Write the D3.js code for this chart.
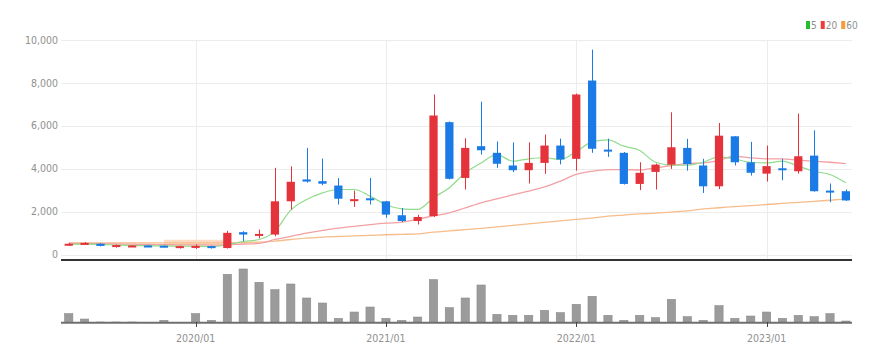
<!DOCTYPE html>
<html>
<head>
<meta charset="utf-8">
<script src="https://cdn.jsdelivr.net/npm/d3@7"></script>
<style>
  html, body { margin: 0; padding: 0; background: #fff; }
  svg { display: block; }
  text { font-family: "Liberation Sans Narrow", "DejaVu Sans Condensed", "Arial Narrow", sans-serif; }
</style>
</head>
<body>
<svg id="chart" width="888" height="363"></svg>
<script>
// ---------------- DATA ----------------
const months = [
  "2019/05","2019/06","2019/07","2019/08","2019/09","2019/10","2019/11","2019/12",
  "2020/01","2020/02","2020/03","2020/04","2020/05","2020/06","2020/07","2020/08","2020/09","2020/10","2020/11","2020/12",
  "2021/01","2021/02","2021/03","2021/04","2021/05","2021/06","2021/07","2021/08","2021/09","2021/10","2021/11","2021/12",
  "2022/01","2022/02","2022/03","2022/04","2022/05","2022/06","2022/07","2022/08","2022/09","2022/10","2022/11","2022/12",
  "2023/01","2023/02","2023/03","2023/04","2023/05","2023/06"
];
const openP  = [430,490,500,370,380,420,410,300, 310,390,300,1040,920,930,2480,3500,3420,3215,2530,2620,
                2480,1830,1560,1790,6170,3570,5050,4740,4150,3930,4270,5080, 4460,8110,4890,4740,3290,3850,4190,4970,
                4150,3180,5510,4300,3770,4020,3880,4610,2980,2950];
const highP  = [540,580,520,460,440,430,420,410, 470,410,1100,1090,1160,4040,4110,4970,4470,3560,2980,3570,
                2500,2170,1850,7460,6200,5420,7120,5270,5230,5230,5590,5400, 7500,9550,5400,4780,4300,4240,6630,5390,
                4460,6130,5520,5250,5080,4460,6570,5790,3310,3030];
const lowP   = [410,470,380,320,370,370,360,280, 260,280,280,620,750,850,2100,3350,3230,2330,2220,2330,
                1710,1510,1400,1750,3500,3030,4660,4040,3840,3310,3760,4200, 3910,4740,4550,3260,3000,3030,3990,3910,
                2870,3050,4150,3680,3400,3460,3770,2930,2440,2500];
const closeP = [500,540,400,440,420,380,370,390, 400,300,1010,930,960,2480,3390,3400,3300,2600,2580,2560,
                1860,1560,1750,6480,3530,4970,4860,4230,3930,4270,5080,4430, 7460,4930,4810,3290,3810,4190,5000,4210,
                3180,5540,4300,3810,4120,3940,4580,2950,2930,2520];
const volume = [27,11,2,2,2,1,7,1, 27,7,145,161,121,99,116,74,59,13,32,47,
                13,7,17,129,45,74,113,25,22,22,37,30, 55,79,22,7,22,15,70,18,
                7,51,13,20,32,13,22,18,27,5].map(v => v * 1000);
const ma5  = [470,480,470,440,420,410,400,390, 380,370,450,600,700,1090,2070,2560,2870,3030,3030,2720,
              2330,2130,2100,2650,3110,3810,4270,4660,4350,4460,4510,4430, 4800,5250,5340,5050,4850,4300,4170,4160,
              4300,4550,4450,4300,4270,4350,4120,3880,3730,3340];
const ma20 = [520,520,510,490,480,470,460,450, 450,440,450,490,520,700,850,1000,1120,1230,1310,1390,
              1460,1510,1650,1800,1940,2170,2410,2590,2780,2950,3150,3420, 3730,3880,3960,3960,3940,4040,4150,4240,
              4270,4390,4580,4500,4460,4460,4400,4350,4300,4240];
const ma60 = [540,540,540,540,540,540,545,545, 545,545,550,560,580,620,700,760,810,840,870,890,
              920,940,960,1040,1100,1160,1220,1290,1360,1430,1500,1570, 1640,1700,1790,1840,1890,1930,1980,2030,
              2130,2180,2230,2280,2330,2380,2430,2480,2530,2580];
const yTicks = [0,2000,4000,6000,8000,10000];
const xTickLabels = ["2020/01","2021/01","2022/01","2023/01"];
const legendItems = [{label:"5", color:"#1fbf2f"},{label:"20", color:"#ef3b3b"},{label:"60", color:"#f59d3d"}];

// ---------------- CHART ----------------
const svg = d3.select("#chart");
const W = 888, H = 363;
svg.append("rect").attr("width", W).attr("height", H).attr("fill", "#fff");

const left = 61, right = 852;
const x = d3.scaleBand().domain(months).range([60.8, 853.8]).paddingInner(0.48).paddingOuter(0.24);
const cx = d => x(d) + x.bandwidth() / 2;
const y = d3.scaleLinear().domain([0, 10000]).range([254.5, 40]);
const yv = d3.scaleLinear().domain([0, 161000]).range([322.7, 269]);

const data = months.map((m, i) => ({m, o: openP[i], h: highP[i], l: lowP[i], c: closeP[i], v: volume[i],
  a5: ma5[i], a20: ma20[i], a60: ma60[i]}));

// grid horizontal
svg.append("g").selectAll("line").data(yTicks).join("line")
  .attr("x1", left).attr("x2", right)
  .attr("y1", d => Math.round(y(d)) + 0.5).attr("y2", d => Math.round(y(d)) + 0.5)
  .attr("stroke", "#ececec").attr("stroke-width", 1);
// grid vertical
svg.append("g").selectAll("line").data(xTickLabels).join("line")
  .attr("x1", d => Math.round(cx(d)) + 0.5).attr("x2", d => Math.round(cx(d)) + 0.5)
  .attr("y1", 40).attr("y2", 259)
  .attr("stroke", "#ececec").attr("stroke-width", 1);

// y labels
svg.append("g").selectAll("text").data(yTicks).join("text")
  .attr("x", 58).attr("y", d => y(d)).attr("dy", "0.35em")
  .attr("text-anchor", "end").attr("font-size", 10.5).attr("fill", "#909090")
  .text(d => d3.format(",")(d));

// MA lines
const line = key => d3.line().x(d => cx(d.m)).y(d => y(d[key])).curve(d3.curveMonotoneX);
// faint band at start of 60 line
svg.append("path").datum(data.slice(6, 11))
  .attr("d", line("a60")).attr("fill", "none")
  .attr("stroke", "#f9cfb0").attr("stroke-width", 6).attr("opacity", 0.75);
svg.append("path").datum(data).attr("d", line("a60")).attr("fill", "none")
  .attr("stroke", "#f6bd8a").attr("stroke-width", 1.3);
svg.append("path").datum(data).attr("d", line("a20")).attr("fill", "none")
  .attr("stroke", "#f3a0a3").attr("stroke-width", 1.3);
svg.append("path").datum(data).attr("d", line("a5")).attr("fill", "none")
  .attr("stroke", "#8fdc8c").attr("stroke-width", 1.2);

// candles
const up = "#e5333b", down = "#1a7ae6";
const cg = svg.append("g");
cg.selectAll("line").data(data).join("line")
  .attr("x1", d => Math.round(cx(d.m)) + 0.5).attr("x2", d => Math.round(cx(d.m)) + 0.5)
  .attr("y1", d => y(d.h)).attr("y2", d => y(d.l))
  .attr("stroke", d => d.c >= d.o ? up : down).attr("stroke-width", 1);
cg.selectAll("rect").data(data).join("rect")
  .attr("x", d => x(d.m)).attr("width", x.bandwidth())
  .attr("y", d => Math.min(y(d.o), y(d.c)))
  .attr("height", d => Math.max(2, Math.abs(y(d.o) - y(d.c))))
  .attr("fill", d => d.c >= d.o ? up : down);

// main bottom axis line
svg.append("line").attr("x1", left).attr("x2", right).attr("y1", 260).attr("y2", 260)
  .attr("stroke", "#333").attr("stroke-width", 2);

// volume bars
svg.append("g").selectAll("rect").data(data).join("rect")
  .attr("x", d => x(d.m)).attr("width", x.bandwidth())
  .attr("y", d => yv(d.v)).attr("height", d => yv(0) - yv(d.v))
  .attr("fill", "#9b9b9b").attr("stroke", "#8a8a8a").attr("stroke-width", 0.6);
svg.append("line").attr("x1", left).attr("x2", right).attr("y1", 322.7).attr("y2", 322.7)
  .attr("stroke", "#6f6f6f").attr("stroke-width", 2);
// x ticks
svg.append("g").selectAll("line").data(xTickLabels).join("line")
  .attr("x1", d => Math.round(cx(d)) + 0.5).attr("x2", d => Math.round(cx(d)) + 0.5)
  .attr("y1", 322).attr("y2", 327).attr("stroke", "#444").attr("stroke-width", 1);
svg.append("g").selectAll("text").data(xTickLabels).join("text")
  .attr("x", d => cx(d)).attr("y", 338).attr("dy", "0.35em")
  .attr("text-anchor", "middle").attr("font-size", 10.5).attr("fill", "#909090")
  .text(d => d);

// legend
const lg = svg.append("g");
let lx = 806;
legendItems.forEach(it => {
  lg.append("rect").attr("x", lx).attr("y", 21).attr("width", 4).attr("height", 8).attr("fill", it.color);
  const t = lg.append("text").attr("x", lx + 5).attr("y", 25).attr("dy", "0.35em")
    .attr("font-size", 10).attr("fill", "#909090").text(it.label);
  lx += 5 + t.node().getComputedTextLength() + 4;
});
</script>
</body>
</html>
